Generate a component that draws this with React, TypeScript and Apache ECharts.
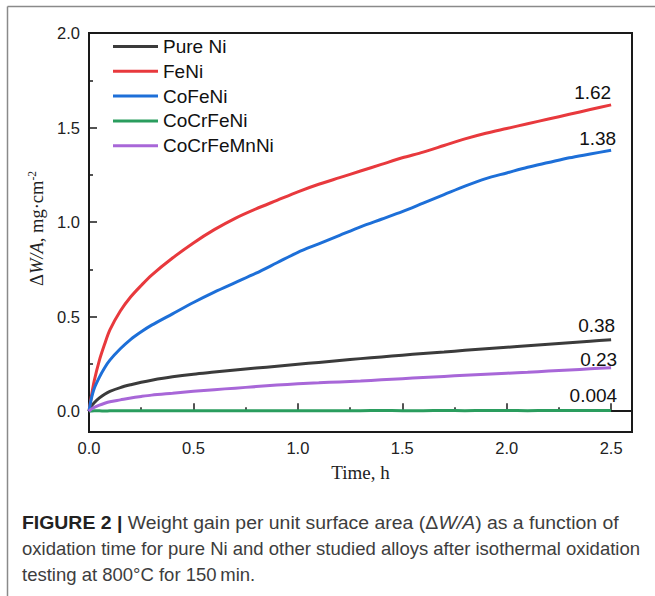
import React, { useEffect, useRef } from "react";
import * as echarts from "echarts";

// ---- Data ----
const times = [0, 0.01, 0.025, 0.05, 0.075, 0.1, 0.15, 0.2, 0.25, 0.3, 0.4, 0.5, 0.6, 0.7, 0.8, 0.9, 1.0, 1.1, 1.2, 1.3, 1.4, 1.5, 1.6, 1.7, 1.8, 1.9, 2.0, 2.1, 2.2, 2.3, 2.4, 2.5];
const seriesNames = ["Pure Ni", "FeNi", "CoFeNi", "CoCrFeNi", "CoCrFeMnNi"];
const pureNi = [0, 0.025, 0.045, 0.07, 0.09, 0.105, 0.125, 0.14, 0.153, 0.164, 0.182, 0.196, 0.207, 0.218, 0.228, 0.238, 0.248, 0.258, 0.268, 0.278, 0.287, 0.296, 0.305, 0.313, 0.322, 0.33, 0.338, 0.346, 0.354, 0.362, 0.37, 0.378];
const feNi = [0, 0.07, 0.16, 0.27, 0.355, 0.43, 0.53, 0.605, 0.665, 0.72, 0.81, 0.89, 0.96, 1.02, 1.07, 1.115, 1.16, 1.2, 1.235, 1.27, 1.305, 1.34, 1.37, 1.405, 1.44, 1.47, 1.495, 1.52, 1.545, 1.57, 1.595, 1.62];
const coFeNi = [0, 0.06, 0.12, 0.18, 0.23, 0.27, 0.33, 0.38, 0.42, 0.455, 0.515, 0.575, 0.63, 0.68, 0.73, 0.785, 0.84, 0.885, 0.93, 0.975, 1.015, 1.055, 1.1, 1.145, 1.19, 1.23, 1.26, 1.29, 1.315, 1.34, 1.36, 1.38];
const coCrFeNi = [0, 0.001, 0.002, 0.002, 0.001, 0.002, 0.002, 0.003, 0.002, 0.002, 0.003, 0.002, 0.003, 0.003, 0.002, 0.003, 0.003, 0.002, 0.003, 0.003, 0.004, 0.003, 0.003, 0.004, 0.003, 0.004, 0.004, 0.003, 0.004, 0.004, 0.004, 0.004];
const coCrFeMnNi = [0, 0.01, 0.02, 0.032, 0.042, 0.05, 0.06, 0.07, 0.078, 0.085, 0.095, 0.105, 0.114, 0.122, 0.13, 0.138, 0.145, 0.15, 0.155, 0.16, 0.166, 0.172, 0.178, 0.184, 0.19, 0.196, 0.201, 0.206, 0.212, 0.218, 0.224, 0.23];
const endLabels = ["0.38", "1.62", "1.38", "0.004", "0.23"];
const xTicks = [0, 0.5, 1.0, 1.5, 2.0, 2.5];
const xMinorTicks = [0.25, 0.75, 1.25, 1.75, 2.25];
const yTicks = [0, 0.5, 1.0, 1.5, 2.0];
const yMinorTicks = [0.25, 0.75, 1.25, 1.75];
const captionLines = [
  "{b|FIGURE 2 |} Weight gain per unit surface area (Δ{i|W/A}) as a function of",
  "oxidation time for pure Ni and other studied alloys after isothermal oxidation",
  "testing at 800°C for 150\u2009min.",
];

const allValues = [pureNi, feNi, coFeNi, coCrFeNi, coCrFeMnNi];
const colors = ["#3b3b3b", "#e8393d", "#1d6fd8", "#2a9d5e", "#a867d8"];
const labelOffsets = [[4, -5], [0, -3], [5, -2], [6, -5], [6, 1]];
const captionScaleX = [1.05, 1, 1];

const SANS = "'Liberation Sans', Arial, sans-serif";
const SERIF = "'Liberation Serif', 'Times New Roman', serif";
const AXIS_COLOR = "#1a1a1a";

function buildOption(): any {
  const series = seriesNames.map((name, si) => {
    const vals = allValues[si];
    return {
      name,
      type: "line",
      data: times.map((t, i) => [t, vals[i]]),
      symbol: "none",
      showSymbol: false,
      smooth: 0.3,
      lineStyle: { color: colors[si], width: 3 },
      itemStyle: { color: colors[si] },
      z: si === 3 ? 1 : 2,
      silent: true,
      endLabel: {
        show: true,
        formatter: () => endLabels[si],
        align: "right",
        verticalAlign: "bottom",
        distance: 0,
        offset: labelOffsets[si],
        fontFamily: SANS,
        fontSize: 19,
        color: "#111",
      },
    };
  });

  const graphic: any[] = [
    { type: "line", shape: { x1: 7.5, y1: 6.5, x2: 655, y2: 6.5 }, style: { stroke: "#8a8a8a", lineWidth: 1.5 } },
    { type: "line", shape: { x1: 7.5, y1: 6.5, x2: 7.5, y2: 596 }, style: { stroke: "#8a8a8a", lineWidth: 1.5 } },
  ];
  captionLines.forEach((line, i) => {
    graphic.push({
      type: "text",
      x: 22,
      y: 523 + i * 25.5,
      scaleX: captionScaleX[i],
      style: {
        text: line,
        fontFamily: SANS,
        fontSize: 18.5,
        fill: "#3d3d3d",
        verticalAlign: "middle",
        rich: {
          b: { fontFamily: SANS, fontSize: 18.5, fontWeight: "bold", fill: "#222" },
          i: { fontFamily: SANS, fontSize: 18.5, fontStyle: "italic", fill: "#3d3d3d" },
        },
      },
    });
  });

  const fmt = (v: number) => v.toFixed(1);

  return {
    animation: false,
    backgroundColor: "#ffffff",
    grid: {
      left: 89,
      top: 33,
      width: 543,
      height: 399,
      show: true,
      borderColor: AXIS_COLOR,
      borderWidth: 2,
      backgroundColor: "transparent",
      containLabel: false,
    },
    legend: {
      data: seriesNames,
      orient: "vertical",
      left: 113,
      top: 37,
      padding: 0,
      icon: "rect",
      itemWidth: 45,
      itemHeight: 3,
      itemGap: 5.8,
      textStyle: { fontFamily: SANS, fontSize: 19, color: "#111" },
      selectedMode: false,
    },
    xAxis: [
      {
        type: "value",
        min: 0,
        max: 2.6,
        position: "bottom",
        axisLine: { show: true, lineStyle: { color: AXIS_COLOR, width: 2 } },
        axisTick: { show: true, inside: true, length: 8, lineStyle: { color: AXIS_COLOR, width: 1.5 }, customValues: xTicks },
        axisLabel: { customValues: xTicks, formatter: fmt, margin: 7, fontFamily: SANS, fontSize: 16.5, color: "#222" },
        splitLine: { show: false },
        name: "Time, h",
        nameLocation: "middle",
        nameGap: 31,
        nameTextStyle: { fontFamily: SERIF, fontSize: 19, color: "#222" },
      },
      {
        type: "value",
        min: 0,
        max: 2.6,
        position: "bottom",
        axisLine: { show: false },
        axisTick: { show: true, inside: true, length: 4, lineStyle: { color: AXIS_COLOR, width: 1.5 }, customValues: xMinorTicks },
        axisLabel: { show: false },
        splitLine: { show: false },
      },
    ],
    yAxis: [
      {
        type: "value",
        min: -0.11,
        max: 2.0,
        position: "left",
        axisLine: { show: true, lineStyle: { color: AXIS_COLOR, width: 2 } },
        axisTick: { show: true, inside: true, length: 8, lineStyle: { color: AXIS_COLOR, width: 1.5 }, customValues: yTicks },
        axisLabel: { customValues: yTicks, formatter: fmt, margin: 9, fontFamily: SANS, fontSize: 16.5, color: "#222" },
        splitLine: { show: false },
        name: "{n|Δ}{i|W/A}{n|, mg·cm}{s|-2}",
        nameLocation: "middle",
        nameGap: 36,
        nameTextStyle: {
          padding: [0, 0, 0, 8],
          rich: {
            n: { fontFamily: SERIF, fontSize: 18.5, color: "#222" },
            i: { fontFamily: SERIF, fontSize: 18.5, fontStyle: "italic", color: "#222" },
            s: { fontFamily: SERIF, fontSize: 11.5, color: "#222", verticalAlign: "top", padding: [0, 0, 10, 0] },
          },
        },
      },
      {
        type: "value",
        min: -0.11,
        max: 2.0,
        position: "left",
        axisLine: { show: false },
        axisTick: { show: true, inside: true, length: 4, lineStyle: { color: AXIS_COLOR, width: 1.5 }, customValues: yMinorTicks },
        axisLabel: { show: false },
        splitLine: { show: false },
      },
    ],
    series,
    graphic,
  };
}

export default function App() {
  const ref = useRef<HTMLDivElement>(null);
  useEffect(() => {
    if (!ref.current) return;
    const chart = echarts.init(ref.current, null, { renderer: "svg" });
    chart.setOption(buildOption());
    return () => chart.dispose();
  }, []);
  return (
    <div
      ref={ref}
      style={{ position: "absolute", left: 0, top: 0, width: 655, height: 596, background: "#fff" }}
    />
  );
}
